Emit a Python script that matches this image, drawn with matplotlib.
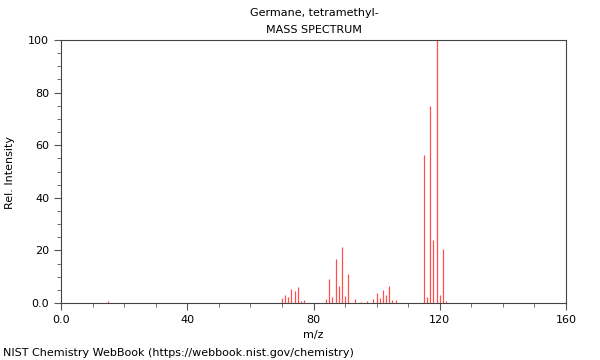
import matplotlib
matplotlib.use("Agg")
import matplotlib.pyplot as plt
from matplotlib.ticker import MultipleLocator, FixedLocator, FixedFormatter

title = "Germane, tetramethyl-"
subtitle = "MASS SPECTRUM"
mz = [15, 70, 71, 72, 73, 74, 75, 76, 77, 84, 85, 86, 87, 88, 89, 90, 91, 93,
      95, 97, 99, 100, 101, 102, 103, 104, 105, 106,
      115, 116, 117, 118, 119, 120, 121, 122]
intensity = [0.6, 1.9, 3.2, 2.4, 5.3, 4.7, 6.2, 0.8, 1.3, 1.4, 9.1, 2.4, 16.9, 6.3, 21.3, 2.8, 11.0, 1.5,
             0.5, 0.8, 1.5, 3.7, 1.9, 4.9, 3.0, 6.5, 1.3, 1.2,
             56.4, 2.2, 74.9, 23.8, 100.0, 3.2, 20.6, 0.6]
xticks = [0, 40, 80, 120, 160]
xticklabels = ["0.0", "40", "80", "120", "160"]
yticks = [0, 20, 40, 60, 80, 100]
yticklabels = ["0.0", "20", "40", "60", "80", "100"]

plt.rcParams['font.family'] = ['DejaVu Sans']
fig = plt.figure(figsize=(6, 3.6), dpi=100)
ax = fig.add_axes([61/600, 1-303/360, 505/600, 263/360])
ax.vlines(mz, 0, intensity, colors='#ff3030', linewidth=0.9, alpha=0.85)
ax.set_xlim(0, 160)
ax.set_ylim(0, 100)
ax.xaxis.set_major_locator(FixedLocator(xticks))
ax.xaxis.set_major_formatter(FixedFormatter(xticklabels))
ax.xaxis.set_minor_locator(MultipleLocator(10))
ax.yaxis.set_major_locator(FixedLocator(yticks))
ax.yaxis.set_major_formatter(FixedFormatter(yticklabels))
ax.yaxis.set_minor_locator(MultipleLocator(5))
ax.tick_params(axis='both', which='major', labelsize=8, length=5, color='#555555')
ax.tick_params(axis='both', which='minor', length=3, color='#555555')
for s in ax.spines.values():
    s.set_color('#444444')
    s.set_linewidth(0.8)
ax.set_xlabel("m/z", fontsize=8)
fig.text(10/600, 1 - 172/360, "Rel. Intensity", rotation=90, ha='center', va='center', fontsize=8)
fig.text(314/600, 1 - 13/360, title, ha='center', va='center', fontsize=8)
fig.text(314/600, 1 - 30/360, subtitle, ha='center', va='center', fontsize=8)
fig.text(3/600, 1 - 353/360, "NIST Chemistry WebBook (https://webbook.nist.gov/chemistry)",
         ha='left', va='center', fontsize=8)
fig.savefig("out.png", dpi=100)
